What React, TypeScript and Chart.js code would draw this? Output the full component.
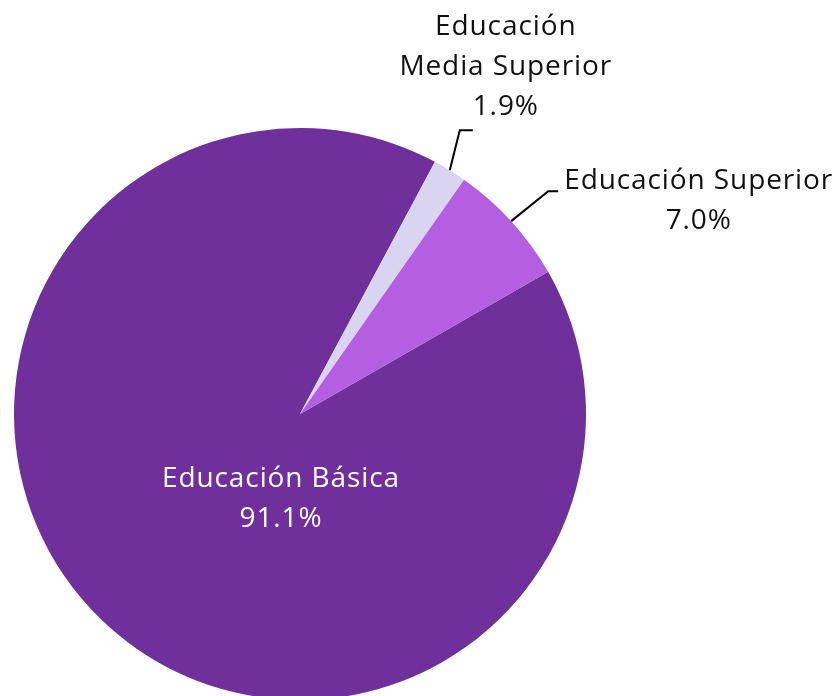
import React, { useEffect, useRef } from "react";
import { Chart, registerables } from "chart.js";

Chart.register(...registerables);

// ---- data ----
const categories = ["Educación Básica", "Educación Media Superior", "Educación Superior"];
const labelLines = [["Educación Básica"], ["Educación", "Media Superior"], ["Educación Superior"]];
const shares = [91.1, 1.9, 7.0];
const sliceColors = ["#6F309C", "#D9D5F1", "#B45EE2"];

// ---- styling / layout ----
const FONT = "'Open Sans', 'Noto Sans', sans-serif";
const FONT_SIZE = 28;
const LETTER_SPACING = "0.9px";
const LINE_H = 40;
const CANVAS_W = 838;
const CANVAS_H = 740;

type LabelLayout =
  | { kind: "inside"; dx: number; dy: number; color: string }
  | { kind: "above"; elbow: [number, number]; tail: number; cx: number; lastDy: number }
  | { kind: "right"; elbow: [number, number]; tail: number; gap: number; firstDy: number };

const labelLayouts: LabelLayout[] = [
  { kind: "inside", dx: -19, dy: 73, color: "#ffffff" },
  { kind: "above", elbow: [10, -40], tail: 13, cx: 33, lastDy: -15 },
  { kind: "right", elbow: [37, -30], tail: 10, gap: 6, firstDy: -2 },
];

const labelPlugin = {
  id: "sliceLabels",
  afterDatasetsDraw(chart: any) {
    const ctx: any = chart.ctx;
    const meta = chart.getDatasetMeta(0);
    ctx.save();
    ctx.font = `${FONT_SIZE}px ${FONT}`;
    try {
      ctx.letterSpacing = LETTER_SPACING;
    } catch (e) {}
    ctx.textBaseline = "alphabetic";
    meta.data.forEach((arc: any, i: number) => {
      const { x, y, startAngle, endAngle, outerRadius } = arc.getProps(
        ["x", "y", "startAngle", "endAngle", "outerRadius"],
        true
      );
      const mid = (startAngle + endAngle) / 2;
      const lines = [...labelLines[i], shares[i].toFixed(1) + "%"];
      const L = labelLayouts[i];
      if (L.kind === "inside") {
        ctx.fillStyle = L.color;
        ctx.textAlign = "center";
        lines.forEach((t, k) => ctx.fillText(t, x + L.dx, y + L.dy + k * LINE_H));
        return;
      }
      const px = x + Math.cos(mid) * outerRadius;
      const py = y + Math.sin(mid) * outerRadius;
      const ex = px + L.elbow[0];
      const ey = py + L.elbow[1];
      const hx = ex + L.tail;
      ctx.strokeStyle = "#000000";
      ctx.lineWidth = 2;
      ctx.beginPath();
      ctx.moveTo(px, py);
      ctx.lineTo(ex, ey);
      ctx.lineTo(hx, ey);
      ctx.stroke();
      ctx.fillStyle = "#111111";
      ctx.textAlign = "center";
      if (L.kind === "above") {
        const n = lines.length;
        lines.forEach((t, k) =>
          ctx.fillText(t, hx + L.cx, ey + L.lastDy - (n - 1 - k) * LINE_H)
        );
      } else {
        const maxW = Math.max(...lines.map((t) => ctx.measureText(t).width));
        const cx = hx + L.gap + maxW / 2;
        lines.forEach((t, k) => ctx.fillText(t, cx, ey + L.firstDy + k * LINE_H));
      }
    });
    ctx.restore();
  },
};

export default function App() {
  const ref = useRef<HTMLCanvasElement | null>(null);
  useEffect(() => {
    if (!ref.current) return;
    const chart = new Chart(ref.current, {
      type: "pie",
      data: {
        labels: categories,
        datasets: [
          {
            data: shares,
            backgroundColor: sliceColors,
            borderWidth: 0,
          },
        ],
      },
      options: {
        responsive: false,
        animation: false,
        rotation: 60.2,
        layout: { padding: { left: 14, right: 252, top: 128, bottom: 40 } },
        plugins: {
          legend: { display: false },
          tooltip: { enabled: false },
        },
      },
      plugins: [labelPlugin],
    });
    return () => chart.destroy();
  }, []);
  return (
    <div
      style={{
        position: "fixed",
        left: 0,
        top: 0,
        width: CANVAS_W,
        height: 696,
        overflow: "hidden",
        background: "#ffffff",
      }}
    >
      <canvas ref={ref} width={CANVAS_W} height={CANVAS_H} style={{ display: "block" }} />
    </div>
  );
}
